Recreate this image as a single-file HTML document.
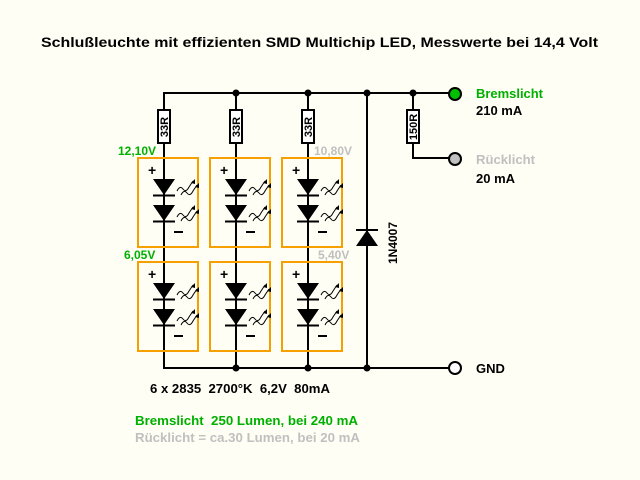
<!DOCTYPE html>
<html><head><style>
html,body{margin:0;padding:0;background:#fefef4;}
svg{display:block;font-family:"Liberation Sans",sans-serif;font-weight:bold;}
text{white-space:pre;}
</style></head><body>
<svg width="640" height="480" viewBox="0 0 640 480">
<defs>
<g id="led">
<polygon points="-11,0 11,0 0,16" fill="#000"/>
<line x1="-11" y1="16.5" x2="11" y2="16.5" stroke="#000" stroke-width="2"/>
<polygon points="-11,26 11,26 0,42" fill="#000"/>
<line x1="-11" y1="42.5" x2="11" y2="42.5" stroke="#000" stroke-width="2"/>
<g fill="none" stroke="#000" stroke-width="1">
<path d="M13,12 q3,-6 6,-2 q3,4 6,-2 l4,-6"/><path d="M17,16 q3,-6 6,-2 q3,4 6,-2 l4,-6"/>
<path d="M13,38 q3,-6 6,-2 q3,4 6,-2 l4,-6"/><path d="M17,42 q3,-6 6,-2 q3,4 6,-2 l4,-6"/>
</g>
<g fill="#000">
<polygon points="31,0 27,4 31,5"/><polygon points="35,4 31,8 35,9"/>
<polygon points="31,26 27,30 31,31"/><polygon points="35,30 31,34 35,35"/>
</g>
</g>
<g id="box">
<rect x="-26" y="0" width="60" height="89" fill="none" stroke="#f5a000" stroke-width="2"/>
<text x="-16" y="17" font-size="14">+</text>
<rect x="10" y="73" width="9" height="2" fill="#000"/>
<use href="#led" x="0" y="21"/>
</g>
</defs>
<text x="41" y="47" font-size="14" textLength="557" lengthAdjust="spacingAndGlyphs" fill="#000">Schlußleuchte mit effizienten SMD Multichip LED, Messwerte bei 14,4 Volt</text>
<g stroke="#000" stroke-width="2" fill="none">
<line x1="163" y1="93" x2="455" y2="93"/>
<line x1="164" y1="93" x2="164" y2="368"/>
<line x1="236" y1="93" x2="236" y2="368"/>
<line x1="308" y1="93" x2="308" y2="368"/>
<line x1="367" y1="93" x2="367" y2="368"/>
<line x1="163" y1="368" x2="450" y2="368"/>
<polyline points="413,93 413,158 450,158"/>
</g>
<g fill="#fff" stroke="#000" stroke-width="2">
<rect x="158" y="110" width="12" height="33"/><rect x="230" y="110" width="12" height="33"/><rect x="302" y="110" width="12" height="33"/>
<rect x="407" y="110" width="12" height="33"/>
</g>
<g font-size="11" fill="#000">
<text transform="translate(168,127) rotate(-90)" text-anchor="middle">33R</text>
<text transform="translate(240,127) rotate(-90)" text-anchor="middle">33R</text>
<text transform="translate(312,127) rotate(-90)" text-anchor="middle">33R</text>
<text transform="translate(417,127) rotate(-90)" text-anchor="middle">150R</text>
<text transform="translate(397,243) rotate(-90)" text-anchor="middle" font-size="12">1N4007</text>
</g>
<g fill="#fefef4">
<rect x="139" y="159" width="58" height="87"/><rect x="211" y="159" width="58" height="87"/><rect x="283" y="159" width="58" height="87"/>
<rect x="139" y="263" width="58" height="87"/><rect x="211" y="263" width="58" height="87"/><rect x="283" y="263" width="58" height="87"/>
</g>
<g stroke="#000" stroke-width="2"><line x1="164" y1="158" x2="164" y2="351"/><line x1="236" y1="158" x2="236" y2="351"/><line x1="308" y1="158" x2="308" y2="351"/></g>
<use href="#box" x="164" y="158"/><use href="#box" x="236" y="158"/><use href="#box" x="308" y="158"/>
<use href="#box" x="164" y="262"/><use href="#box" x="236" y="262"/><use href="#box" x="308" y="262"/>
<polygon points="356,246 378,246 367,230" fill="#000"/>
<line x1="356" y1="230" x2="378" y2="230" stroke="#000" stroke-width="2"/>
<g fill="#000">
<circle cx="236" cy="93" r="3.5"/><circle cx="308" cy="93" r="3.5"/><circle cx="367" cy="93" r="3.5"/><circle cx="413" cy="93" r="3.5"/>
<circle cx="236" cy="368" r="3.5"/><circle cx="308" cy="368" r="3.5"/><circle cx="367" cy="368" r="3.5"/>
</g>
<circle cx="455" cy="94" r="6" fill="#00c000" stroke="#000" stroke-width="2"/>
<circle cx="455" cy="159" r="6" fill="#c0c0c0" stroke="#000" stroke-width="2"/>
<circle cx="455" cy="368" r="6" fill="#fff" stroke="#000" stroke-width="2"/>
<g font-size="13">
<text x="476" y="98" fill="#00b000" textLength="67" lengthAdjust="spacingAndGlyphs">Bremslicht</text>
<text x="476" y="115" fill="#000">210 mA</text>
<text x="476" y="164" fill="#c0c0c0" textLength="59" lengthAdjust="spacingAndGlyphs">Rücklicht</text>
<text x="476" y="183" fill="#000">20 mA</text>
<text x="476" y="373" fill="#000">GND</text>
<text x="118" y="155" fill="#00b000" font-size="12">12,10V</text>
<text x="124" y="259" fill="#00b000" font-size="12">6,05V</text>
<text x="314" y="155" fill="#c0c0c0" font-size="12">10,80V</text>
<text x="318" y="259" fill="#c0c0c0" font-size="12">5,40V</text>
<text x="150" y="393" fill="#000" textLength="180" lengthAdjust="spacingAndGlyphs">6 x 2835  2700°K  6,2V  80mA</text>
<text x="135" y="425" fill="#00b000" textLength="223" lengthAdjust="spacingAndGlyphs">Bremslicht  250 Lumen, bei 240 mA</text>
<text x="135" y="442" fill="#c0c0c0" textLength="225" lengthAdjust="spacingAndGlyphs">Rücklicht = ca.30 Lumen, bei 20 mA</text>
</g>
</svg>
</body></html>
